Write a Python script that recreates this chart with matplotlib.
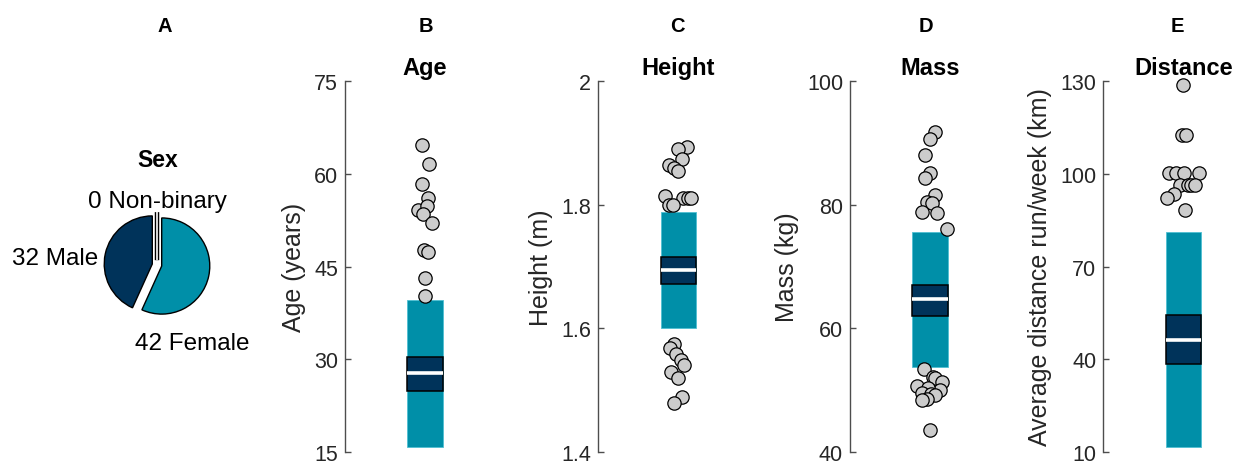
import matplotlib
matplotlib.use("Agg")
import matplotlib.pyplot as plt
import numpy as np
from matplotlib.patches import Rectangle

plt.rcParams['font.family'] = ['Liberation Sans', 'DejaVu Sans']

# ---------------- data ----------------
sex_labels = ['Female', 'Male', 'Non-binary']
sex_counts = [42, 32, 0]

panel_letters = ['A', 'B', 'C', 'D', 'E']
panel_titles = ['Age', 'Height', 'Mass', 'Distance']
y_labels = ['Age (years)', 'Height (m)', 'Mass (kg)', 'Average distance run/week (km)']

age_ticks = [15, 30, 45, 60, 75]
height_ticks = [1.4, 1.6, 1.8, 2.0]
height_ticklabels = ['1.4', '1.6', '1.8', '2']
mass_ticks = [40, 60, 80, 100]
dist_ticks = [10, 40, 70, 100, 130]

# mean, SD band (low, high), 95% CI band (low, high)
age_mean = 27.8
age_sd = (15.8, 39.6)
age_ci = (24.8, 30.3)
height_mean = 1.694
height_sd = (1.600, 1.788)
height_ci = (1.671, 1.715)
mass_mean = 64.7
mass_sd = (53.7, 75.5)
mass_ci = (62.0, 67.0)
dist_mean = 46.2
dist_sd = (11.6, 81.2)
dist_ci = (38.4, 54.3)

# individual points outside SD band (value, horizontal jitter)
age_pts = [64.6, 61.6, 58.3, 56.1, 54.2, 54.8, 53.5, 52.0, 47.6, 47.4, 43.1, 40.2]
age_jit = [-0.017, 0.022, -0.016, 0.018, -0.041, 0.014, -0.014, 0.041, -0.008, 0.018, 0.001, -0.001]

height_pts = [1.894, 1.890, 1.874, 1.864, 1.860, 1.855, 1.814, 1.810, 1.810, 1.810, 1.800, 1.799,
              1.574, 1.568, 1.558, 1.549, 1.540, 1.530, 1.520, 1.489, 1.480]
height_jit = [0.056, -0.001, 0.026, -0.057, -0.028, -0.001, -0.084, 0.031, 0.058, 0.081, -0.057, -0.034,
              -0.024, -0.053, -0.013, 0.016, 0.037, -0.047, -0.001, 0.026, -0.030]

mass_pts = [91.8, 90.6, 88.1, 85.2, 84.3, 81.5, 80.4, 80.2, 78.8, 78.6, 76.1,
            53.5, 52.2, 52.0, 51.4, 50.7, 50.0, 50.4, 49.6, 49.3, 49.2, 48.6, 48.4, 43.6]
mass_jit = [0.031, -0.001, -0.030, -0.001, -0.030, 0.031, -0.016, 0.014, -0.047, 0.043, 0.106,
            -0.038, 0.016, 0.034, 0.078, -0.082, 0.062, -0.011, -0.049, 0.006, 0.031, -0.019, -0.047, 0.001]

dist_pts = [128.6, 112.4, 112.4, 100.4, 100.4, 100.4, 100.4, 96.4, 96.4, 96.4, 96.4, 93.3, 92.3, 88.3]
dist_jit = [0.0, -0.011, 0.014, -0.090, -0.044, 0.004, 0.096, -0.019, 0.029, 0.050, 0.075, -0.059, -0.103, 0.013]

# ---------------- style ----------------
TEAL = '#008FA8'
TEAL_EDGE = '#4FC0D2'
NAVY = '#00335A'
PT_FACE = '#CCCCCC'
AX_GRAY = '#4D4D4D'
TXT_GRAY = '#262626'

W, H = 1242, 464
fig = plt.figure(figsize=(W / 100, H / 100), dpi=100)


def px_axes(left, top, width, height):
    return fig.add_axes([left / W, 1 - (top + height) / H, width / W, height / H])


# ---------------- panel A: pie ----------------
pcx, pcy, psz = 157, 266, 125
axp = px_axes(pcx - psz / 2, pcy - psz / 2, psz, psz)
wedges, _ = axp.pie(sex_counts, colors=[TEAL, NAVY, 'white'], startangle=90, counterclock=False,
                    explode=[0.1, 0.1, 0.1], wedgeprops=dict(edgecolor='black', linewidth=1.0))
# zero-count slice: draw as a thin open sliver (black outline, white core)
zw = wedges[2]
zw.set_linewidth(3.2)
zw.set_zorder(3)
th = np.deg2rad(zw.theta1)
zc = np.array(zw.center)
axp.plot([zc[0], zc[0] + zw.r * np.cos(th)], [zc[1], zc[1] + zw.r * np.sin(th)],
         color='white', linewidth=1.2, zorder=4, solid_capstyle='butt')
axp.set_xlim(-1.3, 1.3)
axp.set_ylim(-1.3, 1.3)
axp.set_aspect('equal')
axp.axis('off')

fig.text(157.5 / W, 1 - 167 / H, 'Sex', ha='center', va='baseline', fontsize=16.5, fontweight='bold')
fig.text(157 / W, 1 - 208 / H, f'{sex_counts[2]} {sex_labels[2]}', ha='center', va='baseline', fontsize=17.5)
fig.text(12 / W, 1 - 265 / H, f'{sex_counts[1]} {sex_labels[1]}', ha='left', va='baseline', fontsize=17.5)
fig.text(135 / W, 1 - 350 / H, f'{sex_counts[0]} {sex_labels[0]}', ha='left', va='baseline', fontsize=17.5)

# ---------------- panels B-E ----------------
panels = [
    (age_mean, age_sd, age_ci, age_pts, age_jit, age_ticks, [str(t) for t in age_ticks]),
    (height_mean, height_sd, height_ci, height_pts, height_jit, height_ticks, height_ticklabels),
    (mass_mean, mass_sd, mass_ci, mass_pts, mass_jit, mass_ticks, [str(t) for t in mass_ticks]),
    (dist_mean, dist_sd, dist_ci, dist_pts, dist_jit, dist_ticks, [str(t) for t in dist_ticks]),
]
lefts = [345, 598.3, 850, 1103.3]
ax_top, ax_h, ax_w = 82, 371, 120
px_per_unit = 160.0
box_w = 0.22

for i, (mean, sd, ci, pts, jit, ticks, tlabels) in enumerate(panels):
    ax = px_axes(lefts[i], ax_top, ax_w, ax_h)
    ax.set_xlim(0.5, 0.5 + ax_w / px_per_unit)
    ax.set_ylim(ticks[0], ticks[-1])

    ax.add_patch(Rectangle((1 - box_w / 2, sd[0]), box_w, sd[1] - sd[0],
                           facecolor=TEAL, edgecolor=TEAL_EDGE, linewidth=0.6, zorder=2))
    ax.scatter([1 + j for j in jit], pts, s=92, facecolor=PT_FACE, edgecolor='black',
               linewidth=0.9, zorder=3, clip_on=False)
    ax.add_patch(Rectangle((1 - box_w / 2, ci[0]), box_w, ci[1] - ci[0],
                           facecolor=NAVY, edgecolor='black', linewidth=1.1, zorder=4))
    ax.plot([1 - box_w / 2, 1 + box_w / 2], [mean, mean], color='white', linewidth=2.6,
            solid_capstyle='butt', zorder=5)

    for s in ['top', 'right', 'bottom']:
        ax.spines[s].set_visible(False)
    ax.spines['left'].set_color(AX_GRAY)
    ax.spines['left'].set_linewidth(1.0)
    ax.set_xticks([])
    ax.set_yticks(ticks)
    ax.set_yticklabels(tlabels)
    ax.tick_params(axis='y', direction='in', length=4, width=1.0, color=AX_GRAY,
                   labelsize=15.5, labelcolor=TXT_GRAY, pad=5)
    ax.set_ylabel(y_labels[i], fontsize=18, color=TXT_GRAY, labelpad=6)
    ax.set_title(panel_titles[i], fontsize=17, fontweight='bold',
                 x=(1 - 0.5) / (ax_w / px_per_unit), pad=5)

# panel letters
letter_x = [165, 426, 677, 926, 1177]
for lx, lt in zip(letter_x, panel_letters):
    fig.text(lx / W, 1 - 32 / H, lt, ha='center', va='baseline', fontsize=14.5, fontweight='bold')

fig.savefig('out.png', dpi=100)
